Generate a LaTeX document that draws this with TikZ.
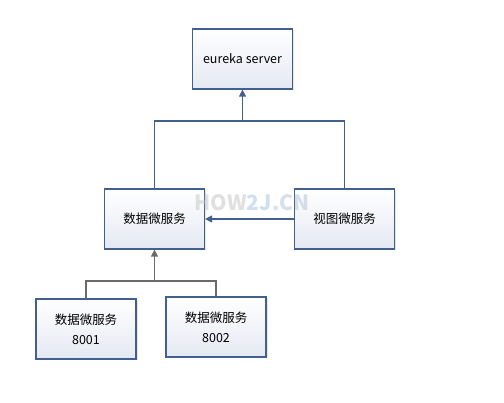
\documentclass[tikz,border=0pt]{standalone}
\usepackage{fontspec}
\setmainfont{Noto Sans CJK SC}
\usetikzlibrary{arrows.meta,shadows}
\definecolor{borde}{HTML}{41608F}
\definecolor{fondo}{HTML}{E4E9F2}
\definecolor{gris}{HTML}{6A6A6A}
\definecolor{marca}{HTML}{C8C8C8}
\definecolor{marcaazul}{HTML}{A9C6E6}
\begin{document}
\begin{tikzpicture}[x=1pt, y=-1pt,
  caja/.style={draw=borde, line width=1.2pt, top color=white, bottom color=fondo,
    minimum width=100pt, minimum height=60pt, align=center,
    font=\fontsize{12.5}{20}\selectfont,
    drop shadow={opacity=0.2, shadow xshift=1.5pt, shadow yshift=-1.5pt}},
  linea/.style={draw=borde, line width=1.2pt},
  lineagris/.style={draw=gris, line width=1.2pt},
  punta/.style={-{Triangle[length=7pt,width=7pt]}}]
  \fill[white] (0,0) rectangle (504,403);
  \useasboundingbox (0,0) rectangle (504,403);
  \node[caja] (eureka) at (242.5,59) {eureka server};
  \node[caja] (datos) at (154.5,219) {数据微服务};
  \node[caja] (vista) at (344.5,219) {视图微服务};
  \node[caja] (d8001) at (86,329) {数据微服务\\8001};
  \node[caja] (d8002) at (216,327) {数据微服务\\8002};
  \coordinate (j1) at (242.5,121);
  \coordinate (j2) at (154.5,281);
  % registro en eureka
  \draw[linea] (datos.north) |- (j1) -| (vista.north);
  \draw[linea, punta] (j1) -- (eureka.south);
  \draw[linea, punta] (vista.west) -- (datos.east);
  % instancias
  \draw[lineagris] (d8001.north) |- (j2) -| (d8002.north);
  \draw[lineagris, punta] (j2) -- (datos.south);
  % marca de agua
  \node[font=\fontsize{21}{21}\selectfont\bfseries, inner sep=0pt, text opacity=0.55] (marca) at (252,203)
    {\textcolor{marca}{HOW}\textcolor{marcaazul}{2J}\textcolor{marcaazul!60!marca}{.CN}};
\end{tikzpicture}
\end{document}
